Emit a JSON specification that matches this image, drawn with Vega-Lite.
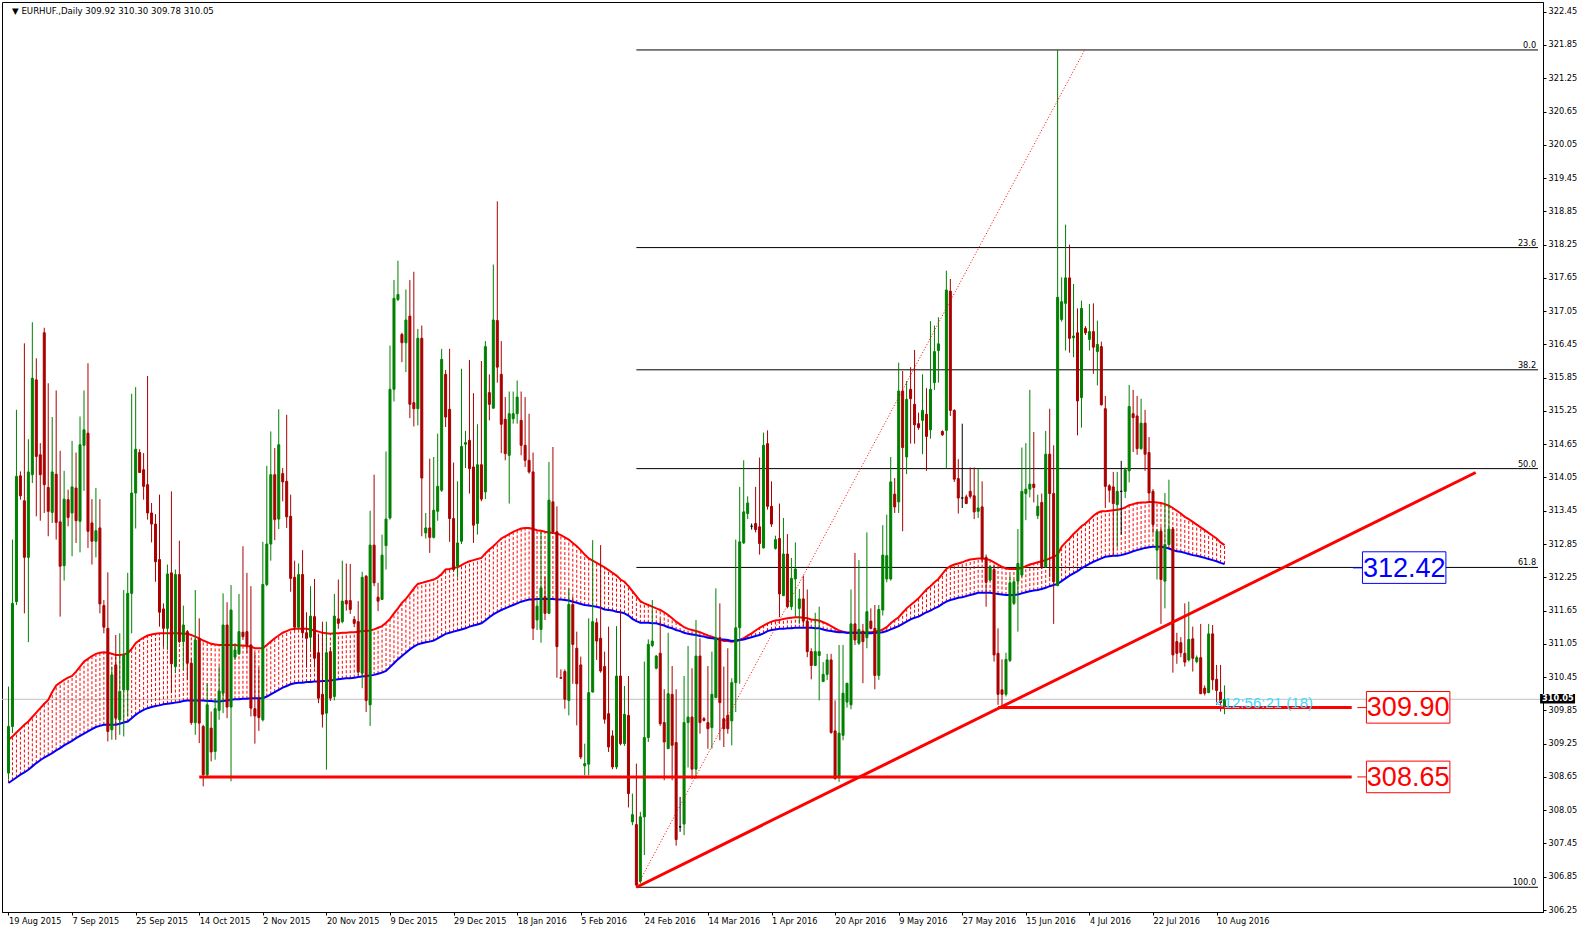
{
"$schema": "https://vega.github.io/schema/vega-lite/v6.json",
"width": 1541, "height": 910,
"autosize": {"type": "none"},
"padding": {"left": 2, "top": 2, "right": 40, "bottom": 21},
"background": "#ffffff",
"config": {
"view": {"stroke": "#000000", "strokeWidth": 1},
"axis": {"grid": false, "title": null, "tickColor": "#000000", "domainColor": "#000000", "labelColor": "#000000", "labelFont": "DejaVu Sans", "labelFontSize": 8.2, "labelOverlap": false, "labelFlush": false, "labelBound": false, "tickSize": 3}
},
"datasets": {
"candles": [
{"i":0,"o":308.72,"h":310.28,"l":308.60,"c":309.56,"r":309.32,"b":308.54},
{"i":1,"o":309.56,"h":312.93,"l":309.44,"c":311.78,"r":309.38,"b":308.59},
{"i":2,"o":311.81,"h":315.27,"l":311.75,"c":314.07,"r":309.45,"b":308.64},
{"i":3,"o":314.08,"h":314.16,"l":313.65,"c":313.72,"r":309.52,"b":308.69},
{"i":4,"o":313.63,"h":316.47,"l":311.60,"c":312.61,"r":309.59,"b":308.73},
{"i":5,"o":312.61,"h":314.74,"l":311.08,"c":314.15,"r":309.65,"b":308.78},
{"i":6,"o":314.10,"h":316.85,"l":313.95,"c":315.84,"r":309.73,"b":308.84},
{"i":7,"o":315.81,"h":316.20,"l":313.35,"c":314.43,"r":309.81,"b":308.90},
{"i":8,"o":314.46,"h":314.67,"l":313.27,"c":314.10,"r":309.89,"b":308.95},
{"i":9,"o":316.66,"h":316.75,"l":313.41,"c":313.92,"r":309.97,"b":309.00},
{"i":10,"o":313.87,"h":315.75,"l":312.99,"c":313.44,"r":310.04,"b":309.04},
{"i":11,"o":313.42,"h":315.14,"l":313.23,"c":314.15,"r":310.18,"b":309.08},
{"i":12,"o":314.11,"h":315.62,"l":312.93,"c":313.24,"r":310.30,"b":309.13},
{"i":13,"o":313.25,"h":314.53,"l":311.54,"c":312.45,"r":310.35,"b":309.17},
{"i":14,"o":312.46,"h":314.17,"l":312.19,"c":313.66,"r":310.40,"b":309.22},
{"i":15,"o":313.65,"h":313.83,"l":313.17,"c":313.33,"r":310.44,"b":309.26},
{"i":16,"o":313.41,"h":314.71,"l":312.63,"c":313.88,"r":310.47,"b":309.30},
{"i":17,"o":313.86,"h":314.50,"l":312.87,"c":313.27,"r":310.55,"b":309.35},
{"i":18,"o":313.26,"h":315.15,"l":312.70,"c":314.64,"r":310.64,"b":309.39},
{"i":19,"o":314.63,"h":315.62,"l":313.81,"c":314.91,"r":310.73,"b":309.43},
{"i":20,"o":314.85,"h":316.11,"l":312.78,"c":313.08,"r":310.78,"b":309.47},
{"i":21,"o":313.23,"h":313.66,"l":312.48,"c":312.90,"r":310.83,"b":309.51},
{"i":22,"o":312.90,"h":313.86,"l":312.61,"c":313.09,"r":310.87,"b":309.55},
{"i":23,"o":313.14,"h":313.66,"l":311.60,"c":311.77,"r":310.89,"b":309.57},
{"i":24,"o":311.74,"h":311.84,"l":311.24,"c":311.35,"r":310.90,"b":309.59},
{"i":25,"o":311.33,"h":312.34,"l":309.29,"c":309.47,"r":310.89,"b":309.59},
{"i":26,"o":309.50,"h":310.64,"l":309.32,"c":310.49,"r":310.87,"b":309.59},
{"i":27,"o":310.67,"h":311.21,"l":309.32,"c":309.71,"r":310.85,"b":309.59},
{"i":28,"o":309.68,"h":311.24,"l":309.41,"c":310.19,"r":310.85,"b":309.61},
{"i":29,"o":310.22,"h":312.02,"l":309.38,"c":310.85,"r":310.86,"b":309.63},
{"i":30,"o":310.22,"h":312.33,"l":309.74,"c":311.96,"r":310.88,"b":309.65},
{"i":31,"o":311.96,"h":315.56,"l":311.24,"c":313.77,"r":310.96,"b":309.71},
{"i":32,"o":313.77,"h":315.68,"l":313.13,"c":314.56,"r":311.06,"b":309.77},
{"i":33,"o":314.50,"h":314.56,"l":314.13,"c":314.14,"r":311.12,"b":309.82},
{"i":34,"o":314.19,"h":314.49,"l":313.65,"c":313.89,"r":311.16,"b":309.86},
{"i":35,"o":313.92,"h":315.88,"l":313.29,"c":313.41,"r":311.20,"b":309.89},
{"i":36,"o":313.41,"h":313.59,"l":312.88,"c":313.21,"r":311.22,"b":309.91},
{"i":37,"o":313.21,"h":313.39,"l":312.17,"c":312.53,"r":311.23,"b":309.93},
{"i":38,"o":312.57,"h":313.74,"l":311.36,"c":311.62,"r":311.24,"b":309.94},
{"i":39,"o":311.68,"h":311.78,"l":311.00,"c":311.33,"r":311.24,"b":309.96},
{"i":40,"o":311.33,"h":312.48,"l":310.94,"c":312.31,"r":311.24,"b":309.97},
{"i":41,"o":312.33,"h":313.80,"l":310.16,"c":310.69,"r":311.24,"b":309.98},
{"i":42,"o":310.64,"h":312.39,"l":310.52,"c":312.30,"r":311.24,"b":309.99},
{"i":43,"o":312.30,"h":312.91,"l":311.06,"c":311.09,"r":311.24,"b":310.00},
{"i":44,"o":311.09,"h":311.74,"l":310.58,"c":311.39,"r":311.23,"b":310.02},
{"i":45,"o":311.27,"h":311.30,"l":310.40,"c":310.70,"r":311.23,"b":310.03},
{"i":46,"o":310.70,"h":310.79,"l":309.59,"c":309.63,"r":311.21,"b":310.03},
{"i":47,"o":309.63,"h":312.02,"l":309.41,"c":311.12,"r":311.18,"b":310.03},
{"i":48,"o":311.14,"h":311.51,"l":309.26,"c":309.62,"r":311.15,"b":310.03},
{"i":49,"o":309.56,"h":309.59,"l":308.48,"c":308.69,"r":311.11,"b":310.03},
{"i":50,"o":308.69,"h":310.34,"l":308.66,"c":309.95,"r":311.08,"b":310.02},
{"i":51,"o":309.53,"h":309.83,"l":308.93,"c":309.10,"r":311.05,"b":310.02},
{"i":52,"o":309.11,"h":310.07,"l":308.96,"c":309.88,"r":311.04,"b":310.01},
{"i":53,"o":309.85,"h":310.64,"l":309.68,"c":310.20,"r":311.03,"b":310.01},
{"i":54,"o":310.16,"h":311.96,"l":309.80,"c":311.39,"r":311.03,"b":310.02},
{"i":55,"o":311.39,"h":311.80,"l":309.71,"c":309.91,"r":311.03,"b":310.03},
{"i":56,"o":309.91,"h":312.11,"l":308.57,"c":311.66,"r":311.03,"b":310.04},
{"i":57,"o":310.81,"h":311.06,"l":310.76,"c":310.94,"r":311.03,"b":310.05},
{"i":58,"o":310.87,"h":311.95,"l":310.85,"c":311.27,"r":311.02,"b":310.05},
{"i":59,"o":311.26,"h":312.81,"l":311.12,"c":311.18,"r":311.02,"b":310.06},
{"i":60,"o":311.27,"h":312.33,"l":310.88,"c":311.03,"r":311.01,"b":310.06},
{"i":61,"o":311.03,"h":312.09,"l":309.74,"c":309.89,"r":311.00,"b":310.07},
{"i":62,"o":309.88,"h":310.89,"l":309.25,"c":309.75,"r":310.97,"b":310.07},
{"i":63,"o":310.05,"h":310.62,"l":309.48,"c":309.72,"r":310.97,"b":310.07},
{"i":64,"o":309.68,"h":312.89,"l":309.65,"c":312.12,"r":310.97,"b":310.07},
{"i":65,"o":312.12,"h":314.26,"l":312.09,"c":312.85,"r":311.03,"b":310.10},
{"i":66,"o":312.85,"h":314.88,"l":312.55,"c":314.10,"r":311.09,"b":310.14},
{"i":67,"o":314.10,"h":314.58,"l":312.92,"c":313.29,"r":311.15,"b":310.18},
{"i":68,"o":313.30,"h":315.28,"l":313.12,"c":314.64,"r":311.20,"b":310.22},
{"i":69,"o":314.12,"h":314.22,"l":313.62,"c":313.97,"r":311.25,"b":310.26},
{"i":70,"o":313.98,"h":315.18,"l":313.14,"c":313.34,"r":311.28,"b":310.29},
{"i":71,"o":313.35,"h":313.74,"l":311.99,"c":312.23,"r":311.31,"b":310.32},
{"i":72,"o":312.25,"h":312.55,"l":311.29,"c":311.35,"r":311.32,"b":310.34},
{"i":73,"o":311.35,"h":312.50,"l":311.32,"c":312.30,"r":311.32,"b":310.35},
{"i":74,"o":312.30,"h":312.74,"l":311.15,"c":311.25,"r":311.32,"b":310.35},
{"i":75,"o":311.25,"h":311.62,"l":310.62,"c":311.15,"r":311.32,"b":310.36},
{"i":76,"o":311.17,"h":312.09,"l":310.95,"c":311.55,"r":311.31,"b":310.36},
{"i":77,"o":311.54,"h":312.22,"l":310.62,"c":310.79,"r":311.29,"b":310.37},
{"i":78,"o":310.89,"h":311.22,"l":309.98,"c":310.07,"r":311.27,"b":310.37},
{"i":79,"o":310.14,"h":311.45,"l":309.54,"c":309.78,"r":311.25,"b":310.38},
{"i":80,"o":309.80,"h":311.45,"l":308.78,"c":310.89,"r":311.24,"b":310.38},
{"i":81,"o":310.91,"h":310.99,"l":310.02,"c":310.07,"r":311.23,"b":310.39},
{"i":82,"o":310.10,"h":311.95,"l":310.03,"c":311.55,"r":311.24,"b":310.40},
{"i":83,"o":311.50,"h":312.21,"l":311.32,"c":311.42,"r":311.24,"b":310.41},
{"i":84,"o":311.45,"h":312.55,"l":311.42,"c":311.82,"r":311.25,"b":310.42},
{"i":85,"o":311.83,"h":312.50,"l":311.65,"c":311.77,"r":311.25,"b":310.43},
{"i":86,"o":311.83,"h":312.49,"l":311.59,"c":311.67,"r":311.26,"b":310.43},
{"i":87,"o":311.49,"h":311.55,"l":311.35,"c":311.42,"r":311.26,"b":310.44},
{"i":88,"o":311.45,"h":311.82,"l":310.48,"c":310.54,"r":311.27,"b":310.45},
{"i":89,"o":310.52,"h":312.35,"l":310.25,"c":312.25,"r":311.28,"b":310.46},
{"i":90,"o":312.27,"h":312.29,"l":309.82,"c":310.03,"r":311.28,"b":310.47},
{"i":91,"o":309.95,"h":313.45,"l":309.57,"c":312.83,"r":311.29,"b":310.48},
{"i":92,"o":312.83,"h":314.10,"l":312.09,"c":312.15,"r":311.31,"b":310.49},
{"i":93,"o":311.89,"h":312.15,"l":311.64,"c":311.82,"r":311.34,"b":310.51},
{"i":94,"o":311.85,"h":313.02,"l":311.85,"c":312.65,"r":311.37,"b":310.53},
{"i":95,"o":312.82,"h":314.52,"l":312.39,"c":313.30,"r":311.43,"b":310.56},
{"i":96,"o":313.32,"h":316.43,"l":313.29,"c":315.64,"r":311.50,"b":310.63},
{"i":97,"o":315.64,"h":317.61,"l":315.42,"c":317.28,"r":311.60,"b":310.70},
{"i":98,"o":317.26,"h":317.96,"l":317.23,"c":317.35,"r":311.69,"b":310.77},
{"i":99,"o":316.63,"h":316.66,"l":316.13,"c":316.48,"r":311.79,"b":310.83},
{"i":100,"o":316.48,"h":317.44,"l":315.95,"c":316.89,"r":311.86,"b":310.89},
{"i":101,"o":316.96,"h":317.61,"l":315.12,"c":315.37,"r":311.95,"b":310.95},
{"i":102,"o":315.40,"h":317.76,"l":314.97,"c":315.29,"r":312.05,"b":311.00},
{"i":103,"o":315.29,"h":316.73,"l":314.99,"c":316.56,"r":312.13,"b":311.04},
{"i":104,"o":316.56,"h":316.79,"l":312.99,"c":314.04,"r":312.15,"b":311.06},
{"i":105,"o":313.05,"h":313.41,"l":312.95,"c":313.14,"r":312.17,"b":311.08},
{"i":106,"o":313.14,"h":314.39,"l":312.69,"c":312.97,"r":312.19,"b":311.09},
{"i":107,"o":312.97,"h":314.42,"l":312.95,"c":313.46,"r":312.21,"b":311.11},
{"i":108,"o":313.44,"h":314.84,"l":313.27,"c":313.89,"r":312.25,"b":311.15},
{"i":109,"o":313.82,"h":316.37,"l":313.79,"c":316.18,"r":312.31,"b":311.19},
{"i":110,"o":315.91,"h":315.99,"l":314.96,"c":315.14,"r":312.39,"b":311.23},
{"i":111,"o":315.28,"h":316.37,"l":312.89,"c":313.31,"r":312.40,"b":311.25},
{"i":112,"o":313.31,"h":314.32,"l":312.35,"c":312.39,"r":312.42,"b":311.27},
{"i":113,"o":312.45,"h":313.98,"l":312.25,"c":312.87,"r":312.43,"b":311.29},
{"i":114,"o":312.90,"h":316.01,"l":312.85,"c":314.61,"r":312.47,"b":311.31},
{"i":115,"o":314.65,"h":314.89,"l":314.22,"c":314.68,"r":312.51,"b":311.33},
{"i":116,"o":314.72,"h":316.17,"l":313.76,"c":314.21,"r":312.54,"b":311.36},
{"i":117,"o":314.24,"h":315.57,"l":312.87,"c":313.19,"r":312.56,"b":311.38},
{"i":118,"o":313.22,"h":315.01,"l":313.02,"c":314.28,"r":312.58,"b":311.40},
{"i":119,"o":314.28,"h":316.15,"l":313.62,"c":313.66,"r":312.60,"b":311.42},
{"i":120,"o":313.79,"h":316.51,"l":313.66,"c":316.41,"r":312.68,"b":311.47},
{"i":121,"o":315.58,"h":315.91,"l":315.08,"c":315.37,"r":312.75,"b":311.53},
{"i":122,"o":315.30,"h":317.89,"l":315.29,"c":316.89,"r":312.81,"b":311.58},
{"i":123,"o":316.88,"h":319.03,"l":315.76,"c":316.04,"r":312.88,"b":311.62},
{"i":124,"o":315.91,"h":316.51,"l":314.49,"c":315.01,"r":312.95,"b":311.66},
{"i":125,"o":315.10,"h":315.50,"l":314.36,"c":314.48,"r":312.99,"b":311.69},
{"i":126,"o":314.45,"h":315.60,"l":313.58,"c":315.20,"r":313.03,"b":311.72},
{"i":127,"o":315.11,"h":315.60,"l":315.02,"c":315.20,"r":313.07,"b":311.75},
{"i":128,"o":315.20,"h":315.80,"l":315.02,"c":315.50,"r":313.10,"b":311.78},
{"i":129,"o":315.08,"h":315.60,"l":314.45,"c":314.63,"r":313.13,"b":311.81},
{"i":130,"o":314.63,"h":315.50,"l":314.24,"c":314.36,"r":313.14,"b":311.83},
{"i":131,"o":314.36,"h":315.20,"l":314.12,"c":314.15,"r":313.14,"b":311.85},
{"i":132,"o":314.15,"h":314.50,"l":311.12,"c":311.33,"r":313.12,"b":311.85},
{"i":133,"o":311.48,"h":311.87,"l":311.30,"c":311.73,"r":313.10,"b":311.86},
{"i":134,"o":311.31,"h":313.07,"l":311.07,"c":312.06,"r":313.09,"b":311.86},
{"i":135,"o":311.90,"h":312.26,"l":311.48,"c":311.60,"r":313.07,"b":311.86},
{"i":136,"o":311.60,"h":314.33,"l":311.60,"c":313.64,"r":313.06,"b":311.86},
{"i":137,"o":313.61,"h":314.60,"l":313.04,"c":313.07,"r":313.05,"b":311.86},
{"i":138,"o":313.07,"h":313.53,"l":310.44,"c":311.00,"r":313.04,"b":311.85},
{"i":139,"o":310.44,"h":310.59,"l":310.42,"c":310.43,"r":313.01,"b":311.85},
{"i":140,"o":310.55,"h":310.59,"l":309.88,"c":310.05,"r":312.97,"b":311.84},
{"i":141,"o":310.03,"h":312.05,"l":309.76,"c":311.76,"r":312.93,"b":311.83},
{"i":142,"o":311.76,"h":311.90,"l":310.33,"c":311.04,"r":312.87,"b":311.81},
{"i":143,"o":310.97,"h":311.27,"l":309.58,"c":310.33,"r":312.81,"b":311.79},
{"i":144,"o":310.67,"h":310.82,"l":308.97,"c":309.01,"r":312.74,"b":311.77},
{"i":145,"o":308.85,"h":309.25,"l":308.68,"c":308.89,"r":312.66,"b":311.75},
{"i":146,"o":308.88,"h":311.51,"l":308.68,"c":310.17,"r":312.59,"b":311.74},
{"i":147,"o":310.18,"h":312.92,"l":310.18,"c":311.45,"r":312.55,"b":311.73},
{"i":148,"o":311.43,"h":311.51,"l":310.76,"c":311.10,"r":312.51,"b":311.72},
{"i":149,"o":311.15,"h":312.83,"l":310.53,"c":310.56,"r":312.47,"b":311.70},
{"i":150,"o":310.64,"h":310.91,"l":309.61,"c":309.69,"r":312.43,"b":311.67},
{"i":151,"o":309.79,"h":311.36,"l":309.10,"c":309.19,"r":312.38,"b":311.66},
{"i":152,"o":309.39,"h":309.49,"l":308.79,"c":308.83,"r":312.33,"b":311.65},
{"i":153,"o":308.83,"h":311.37,"l":308.79,"c":310.47,"r":312.28,"b":311.63},
{"i":154,"o":310.47,"h":311.66,"l":309.22,"c":309.25,"r":312.21,"b":311.62},
{"i":155,"o":309.25,"h":310.29,"l":309.21,"c":309.78,"r":312.17,"b":311.60},
{"i":156,"o":309.76,"h":310.47,"l":308.10,"c":308.35,"r":312.09,"b":311.56},
{"i":157,"o":307.84,"h":308.35,"l":307.78,"c":307.97,"r":312.00,"b":311.50},
{"i":158,"o":307.79,"h":308.89,"l":306.66,"c":306.70,"r":311.91,"b":311.46},
{"i":159,"o":306.77,"h":308.02,"l":306.73,"c":307.93,"r":311.82,"b":311.43},
{"i":160,"o":307.93,"h":310.73,"l":307.24,"c":309.36,"r":311.78,"b":311.43},
{"i":161,"o":309.36,"h":311.13,"l":309.28,"c":311.04,"r":311.75,"b":311.43},
{"i":162,"o":311.02,"h":311.84,"l":310.99,"c":311.10,"r":311.72,"b":311.42},
{"i":163,"o":310.61,"h":310.85,"l":310.59,"c":310.83,"r":311.69,"b":311.42},
{"i":164,"o":310.88,"h":311.50,"l":309.57,"c":309.61,"r":311.66,"b":311.40},
{"i":165,"o":309.63,"h":310.23,"l":308.59,"c":309.28,"r":311.62,"b":311.38},
{"i":166,"o":309.16,"h":311.25,"l":309.16,"c":310.15,"r":311.57,"b":311.35},
{"i":167,"o":310.14,"h":310.65,"l":308.59,"c":309.22,"r":311.51,"b":311.33},
{"i":168,"o":309.27,"h":310.23,"l":307.41,"c":307.52,"r":311.45,"b":311.30},
{"i":169,"o":307.75,"h":308.29,"l":307.66,"c":307.75,"r":311.40,"b":311.28},
{"i":170,"o":307.80,"h":310.47,"l":307.60,"c":309.63,"r":311.35,"b":311.25},
{"i":171,"o":309.63,"h":311.01,"l":308.82,"c":309.73,"r":311.32,"b":311.23},
{"i":172,"o":309.73,"h":310.61,"l":308.61,"c":308.79,"r":311.30,"b":311.22},
{"i":173,"o":308.79,"h":311.48,"l":308.62,"c":310.83,"r":311.28,"b":311.21},
{"i":174,"o":310.83,"h":311.15,"l":309.43,"c":309.63,"r":311.26,"b":311.19},
{"i":175,"o":309.70,"h":309.73,"l":309.65,"c":309.67,"r":311.23,"b":311.18},
{"i":176,"o":309.63,"h":310.65,"l":309.16,"c":309.52,"r":311.20,"b":311.16},
{"i":177,"o":309.54,"h":310.91,"l":309.16,"c":310.14,"r":311.18,"b":311.15},
{"i":178,"o":310.08,"h":312.05,"l":310.08,"c":311.16,"r":311.15,"b":311.14},
{"i":179,"o":311.16,"h":311.78,"l":309.31,"c":309.99,"r":311.13,"b":311.13},
{"i":180,"o":309.70,"h":310.64,"l":309.19,"c":309.52,"r":311.10,"b":311.13},
{"i":181,"o":309.76,"h":310.97,"l":309.43,"c":309.52,"r":311.10,"b":311.12},
{"i":182,"o":309.66,"h":310.43,"l":309.22,"c":310.35,"r":311.09,"b":311.10},
{"i":183,"o":310.35,"h":312.93,"l":309.82,"c":311.34,"r":311.10,"b":311.11},
{"i":184,"o":311.34,"h":313.88,"l":310.33,"c":312.89,"r":311.12,"b":311.12},
{"i":185,"o":312.87,"h":314.36,"l":312.85,"c":313.43,"r":311.15,"b":311.13},
{"i":186,"o":313.40,"h":313.71,"l":313.30,"c":313.59,"r":311.20,"b":311.15},
{"i":187,"o":313.17,"h":313.22,"l":313.11,"c":313.17,"r":311.24,"b":311.17},
{"i":188,"o":313.22,"h":313.88,"l":313.06,"c":313.11,"r":311.29,"b":311.19},
{"i":189,"o":313.16,"h":314.41,"l":312.66,"c":312.86,"r":311.34,"b":311.21},
{"i":190,"o":312.78,"h":314.86,"l":312.77,"c":314.63,"r":311.38,"b":311.24},
{"i":191,"o":314.66,"h":314.90,"l":313.47,"c":313.53,"r":311.42,"b":311.28},
{"i":192,"o":313.53,"h":313.98,"l":313.16,"c":313.21,"r":311.45,"b":311.30},
{"i":193,"o":312.77,"h":313.00,"l":312.75,"c":312.93,"r":311.47,"b":311.31},
{"i":194,"o":312.95,"h":313.58,"l":311.53,"c":311.95,"r":311.48,"b":311.32},
{"i":195,"o":311.92,"h":313.32,"l":311.91,"c":312.67,"r":311.50,"b":311.32},
{"i":196,"o":312.67,"h":313.03,"l":311.69,"c":311.72,"r":311.51,"b":311.33},
{"i":197,"o":311.72,"h":312.60,"l":311.66,"c":312.23,"r":311.52,"b":311.33},
{"i":198,"o":312.22,"h":312.88,"l":311.54,"c":312.40,"r":311.53,"b":311.34},
{"i":199,"o":311.69,"h":312.04,"l":311.41,"c":311.86,"r":311.53,"b":311.34},
{"i":200,"o":311.86,"h":312.28,"l":311.37,"c":311.46,"r":311.52,"b":311.34},
{"i":201,"o":311.46,"h":312.03,"l":310.81,"c":310.91,"r":311.51,"b":311.34},
{"i":202,"o":310.91,"h":310.97,"l":310.41,"c":310.66,"r":311.49,"b":311.34},
{"i":203,"o":310.66,"h":311.61,"l":310.66,"c":310.91,"r":311.48,"b":311.33},
{"i":204,"o":310.84,"h":311.72,"l":310.03,"c":310.91,"r":311.47,"b":311.33},
{"i":205,"o":310.37,"h":310.72,"l":310.36,"c":310.50,"r":311.44,"b":311.31},
{"i":206,"o":310.50,"h":310.87,"l":310.40,"c":310.76,"r":311.41,"b":311.29},
{"i":207,"o":310.76,"h":310.87,"l":309.43,"c":309.45,"r":311.37,"b":311.28},
{"i":208,"o":309.48,"h":310.03,"l":308.60,"c":308.62,"r":311.33,"b":311.27},
{"i":209,"o":308.65,"h":311.03,"l":308.56,"c":309.44,"r":311.29,"b":311.26},
{"i":210,"o":309.40,"h":311.03,"l":309.31,"c":310.16,"r":311.27,"b":311.26},
{"i":211,"o":310.00,"h":310.34,"l":309.90,"c":310.34,"r":311.25,"b":311.25},
{"i":212,"o":309.95,"h":312.03,"l":309.87,"c":311.41,"r":311.25,"b":311.25},
{"i":213,"o":311.41,"h":312.69,"l":311.03,"c":311.12,"r":311.25,"b":311.25},
{"i":214,"o":311.06,"h":312.56,"l":311.03,"c":311.31,"r":311.25,"b":311.25},
{"i":215,"o":311.28,"h":311.41,"l":310.34,"c":311.09,"r":311.25,"b":311.25},
{"i":216,"o":311.16,"h":313.06,"l":310.97,"c":311.63,"r":311.26,"b":311.24},
{"i":217,"o":311.46,"h":311.69,"l":311.31,"c":311.33,"r":311.26,"b":311.24},
{"i":218,"o":311.33,"h":311.75,"l":310.23,"c":310.48,"r":311.27,"b":311.25},
{"i":219,"o":310.48,"h":311.75,"l":310.40,"c":311.67,"r":311.28,"b":311.25},
{"i":220,"o":311.66,"h":313.19,"l":311.56,"c":312.65,"r":311.31,"b":311.26},
{"i":221,"o":312.22,"h":313.38,"l":312.16,"c":312.64,"r":311.35,"b":311.28},
{"i":222,"o":312.22,"h":314.42,"l":312.19,"c":313.97,"r":311.42,"b":311.31},
{"i":223,"o":313.75,"h":314.04,"l":313.41,"c":313.52,"r":311.48,"b":311.34},
{"i":224,"o":313.61,"h":316.12,"l":313.41,"c":315.61,"r":311.53,"b":311.37},
{"i":225,"o":315.61,"h":315.97,"l":313.08,"c":314.59,"r":311.61,"b":311.41},
{"i":226,"o":314.42,"h":315.79,"l":314.11,"c":315.46,"r":311.69,"b":311.45},
{"i":227,"o":315.64,"h":316.04,"l":314.66,"c":315.47,"r":311.75,"b":311.49},
{"i":228,"o":315.37,"h":316.35,"l":314.66,"c":315.00,"r":311.81,"b":311.52},
{"i":229,"o":315.02,"h":315.22,"l":314.91,"c":314.95,"r":311.87,"b":311.54},
{"i":230,"o":315.08,"h":315.91,"l":314.47,"c":315.26,"r":311.95,"b":311.58},
{"i":231,"o":315.19,"h":315.66,"l":314.17,"c":314.79,"r":312.03,"b":311.62},
{"i":232,"o":314.91,"h":316.87,"l":314.75,"c":315.64,"r":312.09,"b":311.65},
{"i":233,"o":315.76,"h":316.79,"l":315.63,"c":316.32,"r":312.16,"b":311.69},
{"i":234,"o":316.34,"h":316.94,"l":315.76,"c":316.46,"r":312.22,"b":311.72},
{"i":235,"o":314.88,"h":314.90,"l":314.80,"c":314.82,"r":312.31,"b":311.77},
{"i":236,"o":314.90,"h":317.78,"l":314.21,"c":317.43,"r":312.40,"b":311.81},
{"i":237,"o":317.41,"h":317.63,"l":315.16,"c":315.26,"r":312.45,"b":311.84},
{"i":238,"o":315.26,"h":315.28,"l":313.97,"c":314.02,"r":312.48,"b":311.86},
{"i":239,"o":314.03,"h":314.38,"l":313.40,"c":313.68,"r":312.50,"b":311.88},
{"i":240,"o":313.68,"h":315.02,"l":313.50,"c":313.68,"r":312.52,"b":311.89},
{"i":241,"o":313.70,"h":313.74,"l":313.57,"c":313.58,"r":312.55,"b":311.91},
{"i":242,"o":313.80,"h":314.23,"l":313.67,"c":313.71,"r":312.57,"b":311.93},
{"i":243,"o":313.72,"h":314.23,"l":313.30,"c":313.43,"r":312.58,"b":311.95},
{"i":244,"o":313.44,"h":314.21,"l":313.32,"c":313.50,"r":312.59,"b":311.97},
{"i":245,"o":313.52,"h":313.98,"l":312.53,"c":312.58,"r":312.59,"b":311.97},
{"i":246,"o":312.61,"h":312.66,"l":311.72,"c":312.16,"r":312.58,"b":311.97},
{"i":247,"o":312.20,"h":312.46,"l":312.18,"c":312.44,"r":312.56,"b":311.97},
{"i":248,"o":312.39,"h":312.48,"l":310.73,"c":310.85,"r":312.52,"b":311.96},
{"i":249,"o":310.88,"h":311.33,"l":309.95,"c":310.14,"r":312.48,"b":311.95},
{"i":250,"o":310.22,"h":310.77,"l":309.90,"c":310.14,"r":312.44,"b":311.94},
{"i":251,"o":310.14,"h":310.89,"l":310.10,"c":310.77,"r":312.41,"b":311.93},
{"i":252,"o":310.75,"h":312.29,"l":310.72,"c":312.15,"r":312.40,"b":311.93},
{"i":253,"o":311.78,"h":312.21,"l":311.75,"c":312.17,"r":312.40,"b":311.93},
{"i":254,"o":312.18,"h":313.12,"l":311.27,"c":312.50,"r":312.40,"b":311.94},
{"i":255,"o":312.29,"h":314.59,"l":312.25,"c":313.80,"r":312.42,"b":311.96},
{"i":256,"o":313.76,"h":314.67,"l":313.28,"c":313.84,"r":312.45,"b":311.98},
{"i":257,"o":313.84,"h":315.63,"l":313.69,"c":313.93,"r":312.48,"b":312.00},
{"i":258,"o":313.93,"h":314.87,"l":313.60,"c":313.87,"r":312.50,"b":312.01},
{"i":259,"o":313.36,"h":313.74,"l":313.30,"c":313.53,"r":312.52,"b":312.02},
{"i":260,"o":313.60,"h":313.76,"l":312.40,"c":312.44,"r":312.54,"b":312.04},
{"i":261,"o":312.44,"h":314.89,"l":312.42,"c":314.47,"r":312.56,"b":312.06},
{"i":262,"o":314.47,"h":315.29,"l":312.25,"c":313.76,"r":312.59,"b":312.09},
{"i":263,"o":313.76,"h":314.63,"l":311.41,"c":312.17,"r":312.62,"b":312.11},
{"i":264,"o":312.10,"h":321.76,"l":312.09,"c":317.30,"r":312.66,"b":312.13},
{"i":265,"o":316.90,"h":317.66,"l":316.86,"c":317.22,"r":312.80,"b":312.18},
{"i":266,"o":317.19,"h":318.61,"l":316.34,"c":317.65,"r":312.88,"b":312.23},
{"i":267,"o":317.65,"h":318.25,"l":316.30,"c":316.56,"r":312.95,"b":312.28},
{"i":268,"o":316.57,"h":317.54,"l":316.22,"c":316.60,"r":313.03,"b":312.32},
{"i":269,"o":316.66,"h":317.10,"l":314.81,"c":315.43,"r":313.10,"b":312.36},
{"i":270,"o":315.49,"h":317.24,"l":314.95,"c":317.10,"r":313.17,"b":312.41},
{"i":271,"o":316.74,"h":316.78,"l":316.62,"c":316.66,"r":313.22,"b":312.45},
{"i":272,"o":316.54,"h":317.18,"l":316.34,"c":316.68,"r":313.29,"b":312.49},
{"i":273,"o":316.68,"h":317.19,"l":315.92,"c":316.40,"r":313.36,"b":312.53},
{"i":274,"o":316.32,"h":316.88,"l":315.71,"c":316.45,"r":313.41,"b":312.56},
{"i":275,"o":316.41,"h":316.50,"l":315.35,"c":315.36,"r":313.44,"b":312.59},
{"i":276,"o":315.29,"h":315.52,"l":313.50,"c":313.89,"r":313.44,"b":312.62},
{"i":277,"o":313.90,"h":313.93,"l":313.60,"c":313.82,"r":313.45,"b":312.63},
{"i":278,"o":313.88,"h":314.15,"l":312.64,"c":313.58,"r":313.46,"b":312.64},
{"i":279,"o":313.56,"h":314.15,"l":312.79,"c":313.80,"r":313.47,"b":312.64},
{"i":280,"o":313.80,"h":314.35,"l":313.02,"c":313.80,"r":313.48,"b":312.65},
{"i":281,"o":313.80,"h":314.23,"l":313.68,"c":314.19,"r":313.51,"b":312.67},
{"i":282,"o":314.17,"h":315.72,"l":313.96,"c":315.33,"r":313.55,"b":312.69},
{"i":283,"o":315.20,"h":315.63,"l":314.51,"c":315.13,"r":313.57,"b":312.72},
{"i":284,"o":315.16,"h":315.52,"l":314.46,"c":314.57,"r":313.59,"b":312.74},
{"i":285,"o":314.57,"h":315.47,"l":314.55,"c":315.03,"r":313.60,"b":312.76},
{"i":286,"o":315.03,"h":315.27,"l":314.17,"c":314.47,"r":313.60,"b":312.78},
{"i":287,"o":314.50,"h":314.78,"l":313.60,"c":313.77,"r":313.61,"b":312.79},
{"i":288,"o":313.80,"h":313.84,"l":313.04,"c":313.20,"r":313.61,"b":312.80},
{"i":289,"o":312.74,"h":313.12,"l":312.21,"c":313.08,"r":313.60,"b":312.80},
{"i":290,"o":313.08,"h":313.16,"l":311.41,"c":312.21,"r":313.59,"b":312.80},
{"i":291,"o":312.18,"h":313.77,"l":311.69,"c":312.84,"r":313.57,"b":312.79},
{"i":292,"o":312.84,"h":314.01,"l":312.82,"c":313.12,"r":313.54,"b":312.77},
{"i":293,"o":313.12,"h":313.16,"l":310.53,"c":310.85,"r":313.50,"b":312.74},
{"i":294,"o":311.09,"h":311.25,"l":310.69,"c":310.88,"r":313.45,"b":312.72},
{"i":295,"o":311.07,"h":311.17,"l":310.81,"c":310.89,"r":313.40,"b":312.71},
{"i":296,"o":310.88,"h":311.78,"l":310.64,"c":310.72,"r":313.34,"b":312.69},
{"i":297,"o":310.76,"h":311.81,"l":310.73,"c":311.13,"r":313.30,"b":312.67},
{"i":298,"o":311.14,"h":311.36,"l":310.55,"c":310.79,"r":313.25,"b":312.65},
{"i":299,"o":310.73,"h":310.84,"l":310.70,"c":310.80,"r":313.20,"b":312.64},
{"i":300,"o":310.80,"h":311.41,"l":310.15,"c":310.15,"r":313.15,"b":312.62},
{"i":301,"o":310.25,"h":310.30,"l":310.12,"c":310.16,"r":313.10,"b":312.60},
{"i":302,"o":310.17,"h":311.41,"l":310.16,"c":311.23,"r":313.05,"b":312.58},
{"i":303,"o":311.23,"h":311.39,"l":310.22,"c":310.40,"r":313.00,"b":312.56},
{"i":304,"o":310.41,"h":310.67,"l":309.95,"c":310.21,"r":312.95,"b":312.54},
{"i":305,"o":310.18,"h":310.67,"l":309.83,"c":309.99,"r":312.88,"b":312.51},
{"i":306,"o":309.92,"h":310.30,"l":309.78,"c":310.05,"r":312.83,"b":312.49}
],
"fib": [
{"lv":"0.0","p":321.76,"from":158},
{"lv":"23.6","p":318.196,"from":158},
{"lv":"38.2","p":315.992,"from":158},
{"lv":"50.0","p":314.21,"from":158},
{"lv":"61.8","p":312.428,"from":158},
{"lv":"100.0","p":306.66,"from":158}
],
"cur": [{"p":310.05}],
"thick": [
{"x1":158,"y1":306.66,"x2":369.2,"y2":314.14},
{"x1":249,"y1":309.90,"x2":338,"y2":309.90},
{"x1":48,"y1":308.65,"x2":338,"y2":308.65}
],
"dotted": [{"x1":158,"y1":306.66,"x2":270.8,"y2":321.76}],
"conn": [
{"x1":339.4,"y1":309.90,"x2":341.7,"y2":309.90,"k":"red"},
{"x1":339.4,"y1":308.65,"x2":341.7,"y2":308.65,"k":"red"},
{"x1":338.3,"y1":312.42,"x2":340.7,"y2":312.42,"k":"blue"}
],
"boxes": [
{"t":"312.42","k":"blue","x1":340.7,"x2":361.7,"y1":312.71,"y2":312.14,"xm":351.2,"p":312.42},
{"t":"309.90","k":"red","x1":341.7,"x2":362.7,"y1":310.19,"y2":309.62,"xm":352.2,"p":309.905},
{"t":"308.65","k":"red","x1":341.7,"x2":362.7,"y1":308.935,"y2":308.365,"xm":352.2,"p":308.65}
],
"tag": [{"t":"310.05","x1":385.4,"x2":394.2,"y1":310.145,"y2":309.975,"xt":385.9,"p":310.06}],
"header": [{"t":"▼ EURHUF.,Daily  309.92 310.30 309.78 310.05","x":0.9,"p":322.47}],
"timer": [{"t":"<12:56:21 (18)","x":303.6,"p":309.98}]
},
"layer": [
{
"data": {"name": "cur"},
"mark": {"type": "rule", "color": "#c0c0c0", "strokeWidth": 1},
"encoding": {
"y": {"field": "p", "type": "quantitative", "scale": {"domain": [306.214, 322.625], "nice": false, "zero": false},
"axis": {"orient": "right", "values": [306.25,306.85,307.45,308.05,308.65,309.25,309.85,310.45,311.05,311.65,312.25,312.85,313.45,314.05,314.65,315.25,315.85,316.45,317.05,317.65,318.25,318.85,319.45,320.05,320.65,321.25,321.85,322.45], "format": ".2f", "labelAlign": "left", "labelBaseline": "middle", "labelPadding": 2, "title": null}}
}
},
{
"data": {"name": "fib"},
"mark": {"type": "rule", "color": "#000000", "strokeWidth": 1},
"encoding": {
"x": {"field": "from", "type": "quantitative", "scale": {"domain": [-0.375, 384.875], "nice": false, "zero": false},
"axis": {"orient": "bottom", "values": [0,16,32,48,64,80,96,112,128,144,160,176,192,208,224,240,256,272,288,304], "labelExpr": "['19 Aug 2015','7 Sep 2015','25 Sep 2015','14 Oct 2015','2 Nov 2015','20 Nov 2015','9 Dec 2015','29 Dec 2015','18 Jan 2016','5 Feb 2016','24 Feb 2016','14 Mar 2016','1 Apr 2016','20 Apr 2016','9 May 2016','27 May 2016','15 Jun 2016','4 Jul 2016','22 Jul 2016','10 Aug 2016'][round(datum.value/16)]", "labelAlign": "left", "labelBaseline": "middle", "labelPadding": 6, "title": null}},
"x2": {"datum": 384.875},
"y": {"field": "p", "type": "quantitative", "scale": {"domain": [306.214, 322.625], "nice": false, "zero": false},
"axis": {"orient": "right", "values": [306.25,306.85,307.45,308.05,308.65,309.25,309.85,310.45,311.05,311.65,312.25,312.85,313.45,314.05,314.65,315.25,315.85,316.45,317.05,317.65,318.25,318.85,319.45,320.05,320.65,321.25,321.85,322.45], "format": ".2f", "labelAlign": "left", "labelBaseline": "middle", "labelPadding": 2, "title": null}}
}
},
{
"data": {"name": "candles"},
"mark": {"type": "rule", "color": "#ff0000", "strokeWidth": 1, "strokeDash": [3, 2]},
"encoding": {
"x": {"field": "i", "type": "quantitative", "scale": {"domain": [-0.375, 384.875], "nice": false, "zero": false},
"axis": {"orient": "bottom", "values": [0,16,32,48,64,80,96,112,128,144,160,176,192,208,224,240,256,272,288,304], "labelExpr": "['19 Aug 2015','7 Sep 2015','25 Sep 2015','14 Oct 2015','2 Nov 2015','20 Nov 2015','9 Dec 2015','29 Dec 2015','18 Jan 2016','5 Feb 2016','24 Feb 2016','14 Mar 2016','1 Apr 2016','20 Apr 2016','9 May 2016','27 May 2016','15 Jun 2016','4 Jul 2016','22 Jul 2016','10 Aug 2016'][round(datum.value/16)]", "labelAlign": "left", "labelBaseline": "middle", "labelPadding": 6, "title": null}},
"y": {"field": "b", "type": "quantitative", "scale": {"domain": [306.214, 322.625], "nice": false, "zero": false},
"axis": {"orient": "right", "values": [306.25,306.85,307.45,308.05,308.65,309.25,309.85,310.45,311.05,311.65,312.25,312.85,313.45,314.05,314.65,315.25,315.85,316.45,317.05,317.65,318.25,318.85,319.45,320.05,320.65,321.25,321.85,322.45], "format": ".2f", "labelAlign": "left", "labelBaseline": "middle", "labelPadding": 2, "title": null}},
"y2": {"field": "r"}
}
},
{
"data": {"name": "candles"},
"mark": {"type": "line", "color": "#ff0000", "strokeWidth": 2},
"encoding": {
"x": {"field": "i", "type": "quantitative", "scale": {"domain": [-0.375, 384.875], "nice": false, "zero": false},
"axis": {"orient": "bottom", "values": [0,16,32,48,64,80,96,112,128,144,160,176,192,208,224,240,256,272,288,304], "labelExpr": "['19 Aug 2015','7 Sep 2015','25 Sep 2015','14 Oct 2015','2 Nov 2015','20 Nov 2015','9 Dec 2015','29 Dec 2015','18 Jan 2016','5 Feb 2016','24 Feb 2016','14 Mar 2016','1 Apr 2016','20 Apr 2016','9 May 2016','27 May 2016','15 Jun 2016','4 Jul 2016','22 Jul 2016','10 Aug 2016'][round(datum.value/16)]", "labelAlign": "left", "labelBaseline": "middle", "labelPadding": 6, "title": null}},
"y": {"field": "r", "type": "quantitative", "scale": {"domain": [306.214, 322.625], "nice": false, "zero": false},
"axis": {"orient": "right", "values": [306.25,306.85,307.45,308.05,308.65,309.25,309.85,310.45,311.05,311.65,312.25,312.85,313.45,314.05,314.65,315.25,315.85,316.45,317.05,317.65,318.25,318.85,319.45,320.05,320.65,321.25,321.85,322.45], "format": ".2f", "labelAlign": "left", "labelBaseline": "middle", "labelPadding": 2, "title": null}}
}
},
{
"data": {"name": "candles"},
"mark": {"type": "line", "color": "#0000ff", "strokeWidth": 2},
"encoding": {
"x": {"field": "i", "type": "quantitative", "scale": {"domain": [-0.375, 384.875], "nice": false, "zero": false},
"axis": {"orient": "bottom", "values": [0,16,32,48,64,80,96,112,128,144,160,176,192,208,224,240,256,272,288,304], "labelExpr": "['19 Aug 2015','7 Sep 2015','25 Sep 2015','14 Oct 2015','2 Nov 2015','20 Nov 2015','9 Dec 2015','29 Dec 2015','18 Jan 2016','5 Feb 2016','24 Feb 2016','14 Mar 2016','1 Apr 2016','20 Apr 2016','9 May 2016','27 May 2016','15 Jun 2016','4 Jul 2016','22 Jul 2016','10 Aug 2016'][round(datum.value/16)]", "labelAlign": "left", "labelBaseline": "middle", "labelPadding": 6, "title": null}},
"y": {"field": "b", "type": "quantitative", "scale": {"domain": [306.214, 322.625], "nice": false, "zero": false},
"axis": {"orient": "right", "values": [306.25,306.85,307.45,308.05,308.65,309.25,309.85,310.45,311.05,311.65,312.25,312.85,313.45,314.05,314.65,315.25,315.85,316.45,317.05,317.65,318.25,318.85,319.45,320.05,320.65,321.25,321.85,322.45], "format": ".2f", "labelAlign": "left", "labelBaseline": "middle", "labelPadding": 2, "title": null}}
}
},
{
"data": {"name": "candles"},
"mark": {"type": "rule", "strokeWidth": 1},
"encoding": {
"x": {"field": "i", "type": "quantitative", "scale": {"domain": [-0.375, 384.875], "nice": false, "zero": false},
"axis": {"orient": "bottom", "values": [0,16,32,48,64,80,96,112,128,144,160,176,192,208,224,240,256,272,288,304], "labelExpr": "['19 Aug 2015','7 Sep 2015','25 Sep 2015','14 Oct 2015','2 Nov 2015','20 Nov 2015','9 Dec 2015','29 Dec 2015','18 Jan 2016','5 Feb 2016','24 Feb 2016','14 Mar 2016','1 Apr 2016','20 Apr 2016','9 May 2016','27 May 2016','15 Jun 2016','4 Jul 2016','22 Jul 2016','10 Aug 2016'][round(datum.value/16)]", "labelAlign": "left", "labelBaseline": "middle", "labelPadding": 6, "title": null}},
"y": {"field": "h", "type": "quantitative", "scale": {"domain": [306.214, 322.625], "nice": false, "zero": false},
"axis": {"orient": "right", "values": [306.25,306.85,307.45,308.05,308.65,309.25,309.85,310.45,311.05,311.65,312.25,312.85,313.45,314.05,314.65,315.25,315.85,316.45,317.05,317.65,318.25,318.85,319.45,320.05,320.65,321.25,321.85,322.45], "format": ".2f", "labelAlign": "left", "labelBaseline": "middle", "labelPadding": 2, "title": null}},
"y2": {"field": "l"},
"color": {"condition": [{"test": "datum.c > datum.o", "value": "#008000"}, {"test": "datum.c < datum.o", "value": "#aa0000"}], "value": "#000000"}
}
},
{
"data": {"name": "candles"},
"mark": {"type": "bar", "width": 2, "strokeWidth": 1},
"encoding": {
"x": {"field": "i", "type": "quantitative", "scale": {"domain": [-0.375, 384.875], "nice": false, "zero": false},
"axis": {"orient": "bottom", "values": [0,16,32,48,64,80,96,112,128,144,160,176,192,208,224,240,256,272,288,304], "labelExpr": "['19 Aug 2015','7 Sep 2015','25 Sep 2015','14 Oct 2015','2 Nov 2015','20 Nov 2015','9 Dec 2015','29 Dec 2015','18 Jan 2016','5 Feb 2016','24 Feb 2016','14 Mar 2016','1 Apr 2016','20 Apr 2016','9 May 2016','27 May 2016','15 Jun 2016','4 Jul 2016','22 Jul 2016','10 Aug 2016'][round(datum.value/16)]", "labelAlign": "left", "labelBaseline": "middle", "labelPadding": 6, "title": null}},
"y": {"field": "o", "type": "quantitative", "scale": {"domain": [306.214, 322.625], "nice": false, "zero": false},
"axis": {"orient": "right", "values": [306.25,306.85,307.45,308.05,308.65,309.25,309.85,310.45,311.05,311.65,312.25,312.85,313.45,314.05,314.65,315.25,315.85,316.45,317.05,317.65,318.25,318.85,319.45,320.05,320.65,321.25,321.85,322.45], "format": ".2f", "labelAlign": "left", "labelBaseline": "middle", "labelPadding": 2, "title": null}},
"y2": {"field": "c"},
"fill": {"condition": [{"test": "datum.c > datum.o", "value": "#008000"}, {"test": "datum.c < datum.o", "value": "#aa0000"}], "value": "#000000"},
"stroke": {"condition": [{"test": "datum.c > datum.o", "value": "#008000"}, {"test": "datum.c < datum.o", "value": "#aa0000"}], "value": "#000000"}
}
},
{
"data": {"name": "thick"},
"mark": {"type": "rule", "color": "#ff0000", "strokeWidth": 3},
"encoding": {
"x": {"field": "x1", "type": "quantitative", "scale": {"domain": [-0.375, 384.875], "nice": false, "zero": false},
"axis": {"orient": "bottom", "values": [0,16,32,48,64,80,96,112,128,144,160,176,192,208,224,240,256,272,288,304], "labelExpr": "['19 Aug 2015','7 Sep 2015','25 Sep 2015','14 Oct 2015','2 Nov 2015','20 Nov 2015','9 Dec 2015','29 Dec 2015','18 Jan 2016','5 Feb 2016','24 Feb 2016','14 Mar 2016','1 Apr 2016','20 Apr 2016','9 May 2016','27 May 2016','15 Jun 2016','4 Jul 2016','22 Jul 2016','10 Aug 2016'][round(datum.value/16)]", "labelAlign": "left", "labelBaseline": "middle", "labelPadding": 6, "title": null}},
"x2": {"field": "x2"},
"y": {"field": "y1", "type": "quantitative", "scale": {"domain": [306.214, 322.625], "nice": false, "zero": false},
"axis": {"orient": "right", "values": [306.25,306.85,307.45,308.05,308.65,309.25,309.85,310.45,311.05,311.65,312.25,312.85,313.45,314.05,314.65,315.25,315.85,316.45,317.05,317.65,318.25,318.85,319.45,320.05,320.65,321.25,321.85,322.45], "format": ".2f", "labelAlign": "left", "labelBaseline": "middle", "labelPadding": 2, "title": null}},
"y2": {"field": "y2"}
}
},
{
"data": {"name": "dotted"},
"mark": {"type": "rule", "color": "#ff0000", "strokeWidth": 1, "strokeDash": [1, 2]},
"encoding": {
"x": {"field": "x1", "type": "quantitative", "scale": {"domain": [-0.375, 384.875], "nice": false, "zero": false},
"axis": {"orient": "bottom", "values": [0,16,32,48,64,80,96,112,128,144,160,176,192,208,224,240,256,272,288,304], "labelExpr": "['19 Aug 2015','7 Sep 2015','25 Sep 2015','14 Oct 2015','2 Nov 2015','20 Nov 2015','9 Dec 2015','29 Dec 2015','18 Jan 2016','5 Feb 2016','24 Feb 2016','14 Mar 2016','1 Apr 2016','20 Apr 2016','9 May 2016','27 May 2016','15 Jun 2016','4 Jul 2016','22 Jul 2016','10 Aug 2016'][round(datum.value/16)]", "labelAlign": "left", "labelBaseline": "middle", "labelPadding": 6, "title": null}},
"x2": {"field": "x2"},
"y": {"field": "y1", "type": "quantitative", "scale": {"domain": [306.214, 322.625], "nice": false, "zero": false},
"axis": {"orient": "right", "values": [306.25,306.85,307.45,308.05,308.65,309.25,309.85,310.45,311.05,311.65,312.25,312.85,313.45,314.05,314.65,315.25,315.85,316.45,317.05,317.65,318.25,318.85,319.45,320.05,320.65,321.25,321.85,322.45], "format": ".2f", "labelAlign": "left", "labelBaseline": "middle", "labelPadding": 2, "title": null}},
"y2": {"field": "y2"}
}
},
{
"data": {"name": "conn"},
"mark": {"type": "rule", "strokeWidth": 1},
"encoding": {
"x": {"field": "x1", "type": "quantitative", "scale": {"domain": [-0.375, 384.875], "nice": false, "zero": false},
"axis": {"orient": "bottom", "values": [0,16,32,48,64,80,96,112,128,144,160,176,192,208,224,240,256,272,288,304], "labelExpr": "['19 Aug 2015','7 Sep 2015','25 Sep 2015','14 Oct 2015','2 Nov 2015','20 Nov 2015','9 Dec 2015','29 Dec 2015','18 Jan 2016','5 Feb 2016','24 Feb 2016','14 Mar 2016','1 Apr 2016','20 Apr 2016','9 May 2016','27 May 2016','15 Jun 2016','4 Jul 2016','22 Jul 2016','10 Aug 2016'][round(datum.value/16)]", "labelAlign": "left", "labelBaseline": "middle", "labelPadding": 6, "title": null}},
"x2": {"field": "x2"},
"y": {"field": "y1", "type": "quantitative", "scale": {"domain": [306.214, 322.625], "nice": false, "zero": false},
"axis": {"orient": "right", "values": [306.25,306.85,307.45,308.05,308.65,309.25,309.85,310.45,311.05,311.65,312.25,312.85,313.45,314.05,314.65,315.25,315.85,316.45,317.05,317.65,318.25,318.85,319.45,320.05,320.65,321.25,321.85,322.45], "format": ".2f", "labelAlign": "left", "labelBaseline": "middle", "labelPadding": 2, "title": null}},
"y2": {"field": "y2"},
"color": {"condition": {"test": "datum.k == 'blue'", "value": "#0000ff"}, "value": "#ff0000"}
}
},
{
"data": {"name": "fib"},
"mark": {"type": "text", "align": "right", "baseline": "alphabetic", "dy": -2, "font": "DejaVu Sans", "fontSize": 8.2, "color": "#000000"},
"encoding": {
"x": {"datum": 384.4, "type": "quantitative", "scale": {"domain": [-0.375, 384.875], "nice": false, "zero": false},
"axis": {"orient": "bottom", "values": [0,16,32,48,64,80,96,112,128,144,160,176,192,208,224,240,256,272,288,304], "labelExpr": "['19 Aug 2015','7 Sep 2015','25 Sep 2015','14 Oct 2015','2 Nov 2015','20 Nov 2015','9 Dec 2015','29 Dec 2015','18 Jan 2016','5 Feb 2016','24 Feb 2016','14 Mar 2016','1 Apr 2016','20 Apr 2016','9 May 2016','27 May 2016','15 Jun 2016','4 Jul 2016','22 Jul 2016','10 Aug 2016'][round(datum.value/16)]", "labelAlign": "left", "labelBaseline": "middle", "labelPadding": 6, "title": null}},
"y": {"field": "p", "type": "quantitative", "scale": {"domain": [306.214, 322.625], "nice": false, "zero": false},
"axis": {"orient": "right", "values": [306.25,306.85,307.45,308.05,308.65,309.25,309.85,310.45,311.05,311.65,312.25,312.85,313.45,314.05,314.65,315.25,315.85,316.45,317.05,317.65,318.25,318.85,319.45,320.05,320.65,321.25,321.85,322.45], "format": ".2f", "labelAlign": "left", "labelBaseline": "middle", "labelPadding": 2, "title": null}},
"text": {"field": "lv"}
}
},
{
"data": {"name": "boxes"},
"mark": {"type": "rect", "fill": "#ffffff", "strokeWidth": 1},
"encoding": {
"x": {"field": "x1", "type": "quantitative", "scale": {"domain": [-0.375, 384.875], "nice": false, "zero": false},
"axis": {"orient": "bottom", "values": [0,16,32,48,64,80,96,112,128,144,160,176,192,208,224,240,256,272,288,304], "labelExpr": "['19 Aug 2015','7 Sep 2015','25 Sep 2015','14 Oct 2015','2 Nov 2015','20 Nov 2015','9 Dec 2015','29 Dec 2015','18 Jan 2016','5 Feb 2016','24 Feb 2016','14 Mar 2016','1 Apr 2016','20 Apr 2016','9 May 2016','27 May 2016','15 Jun 2016','4 Jul 2016','22 Jul 2016','10 Aug 2016'][round(datum.value/16)]", "labelAlign": "left", "labelBaseline": "middle", "labelPadding": 6, "title": null}},
"x2": {"field": "x2"},
"y": {"field": "y1", "type": "quantitative", "scale": {"domain": [306.214, 322.625], "nice": false, "zero": false},
"axis": {"orient": "right", "values": [306.25,306.85,307.45,308.05,308.65,309.25,309.85,310.45,311.05,311.65,312.25,312.85,313.45,314.05,314.65,315.25,315.85,316.45,317.05,317.65,318.25,318.85,319.45,320.05,320.65,321.25,321.85,322.45], "format": ".2f", "labelAlign": "left", "labelBaseline": "middle", "labelPadding": 2, "title": null}},
"y2": {"field": "y2"},
"stroke": {"condition": {"test": "datum.k == 'blue'", "value": "#0000ff"}, "value": "#ff0000"}
}
},
{
"data": {"name": "boxes"},
"mark": {"type": "text", "align": "center", "baseline": "middle", "dy": 1, "font": "Liberation Sans", "fontSize": 27},
"encoding": {
"x": {"field": "xm", "type": "quantitative", "scale": {"domain": [-0.375, 384.875], "nice": false, "zero": false},
"axis": {"orient": "bottom", "values": [0,16,32,48,64,80,96,112,128,144,160,176,192,208,224,240,256,272,288,304], "labelExpr": "['19 Aug 2015','7 Sep 2015','25 Sep 2015','14 Oct 2015','2 Nov 2015','20 Nov 2015','9 Dec 2015','29 Dec 2015','18 Jan 2016','5 Feb 2016','24 Feb 2016','14 Mar 2016','1 Apr 2016','20 Apr 2016','9 May 2016','27 May 2016','15 Jun 2016','4 Jul 2016','22 Jul 2016','10 Aug 2016'][round(datum.value/16)]", "labelAlign": "left", "labelBaseline": "middle", "labelPadding": 6, "title": null}},
"y": {"field": "p", "type": "quantitative", "scale": {"domain": [306.214, 322.625], "nice": false, "zero": false},
"axis": {"orient": "right", "values": [306.25,306.85,307.45,308.05,308.65,309.25,309.85,310.45,311.05,311.65,312.25,312.85,313.45,314.05,314.65,315.25,315.85,316.45,317.05,317.65,318.25,318.85,319.45,320.05,320.65,321.25,321.85,322.45], "format": ".2f", "labelAlign": "left", "labelBaseline": "middle", "labelPadding": 2, "title": null}},
"text": {"field": "t"},
"color": {"condition": {"test": "datum.k == 'blue'", "value": "#0000ff"}, "value": "#ff0000"}
}
},
{
"data": {"name": "tag"},
"mark": {"type": "rect", "fill": "#000000"},
"encoding": {
"x": {"field": "x1", "type": "quantitative", "scale": {"domain": [-0.375, 384.875], "nice": false, "zero": false},
"axis": {"orient": "bottom", "values": [0,16,32,48,64,80,96,112,128,144,160,176,192,208,224,240,256,272,288,304], "labelExpr": "['19 Aug 2015','7 Sep 2015','25 Sep 2015','14 Oct 2015','2 Nov 2015','20 Nov 2015','9 Dec 2015','29 Dec 2015','18 Jan 2016','5 Feb 2016','24 Feb 2016','14 Mar 2016','1 Apr 2016','20 Apr 2016','9 May 2016','27 May 2016','15 Jun 2016','4 Jul 2016','22 Jul 2016','10 Aug 2016'][round(datum.value/16)]", "labelAlign": "left", "labelBaseline": "middle", "labelPadding": 6, "title": null}},
"x2": {"field": "x2"},
"y": {"field": "y1", "type": "quantitative", "scale": {"domain": [306.214, 322.625], "nice": false, "zero": false},
"axis": {"orient": "right", "values": [306.25,306.85,307.45,308.05,308.65,309.25,309.85,310.45,311.05,311.65,312.25,312.85,313.45,314.05,314.65,315.25,315.85,316.45,317.05,317.65,318.25,318.85,319.45,320.05,320.65,321.25,321.85,322.45], "format": ".2f", "labelAlign": "left", "labelBaseline": "middle", "labelPadding": 2, "title": null}},
"y2": {"field": "y2"}
}
},
{
"data": {"name": "tag"},
"mark": {"type": "text", "align": "left", "baseline": "middle", "font": "DejaVu Sans", "fontSize": 8.2, "fontWeight": "bold", "color": "#ffffff"},
"encoding": {
"x": {"field": "xt", "type": "quantitative", "scale": {"domain": [-0.375, 384.875], "nice": false, "zero": false},
"axis": {"orient": "bottom", "values": [0,16,32,48,64,80,96,112,128,144,160,176,192,208,224,240,256,272,288,304], "labelExpr": "['19 Aug 2015','7 Sep 2015','25 Sep 2015','14 Oct 2015','2 Nov 2015','20 Nov 2015','9 Dec 2015','29 Dec 2015','18 Jan 2016','5 Feb 2016','24 Feb 2016','14 Mar 2016','1 Apr 2016','20 Apr 2016','9 May 2016','27 May 2016','15 Jun 2016','4 Jul 2016','22 Jul 2016','10 Aug 2016'][round(datum.value/16)]", "labelAlign": "left", "labelBaseline": "middle", "labelPadding": 6, "title": null}},
"y": {"field": "p", "type": "quantitative", "scale": {"domain": [306.214, 322.625], "nice": false, "zero": false},
"axis": {"orient": "right", "values": [306.25,306.85,307.45,308.05,308.65,309.25,309.85,310.45,311.05,311.65,312.25,312.85,313.45,314.05,314.65,315.25,315.85,316.45,317.05,317.65,318.25,318.85,319.45,320.05,320.65,321.25,321.85,322.45], "format": ".2f", "labelAlign": "left", "labelBaseline": "middle", "labelPadding": 2, "title": null}},
"text": {"field": "t"}
}
},
{
"data": {"name": "header"},
"mark": {"type": "text", "align": "left", "baseline": "middle", "font": "DejaVu Sans", "fontSize": 8.6, "color": "#000000"},
"encoding": {
"x": {"field": "x", "type": "quantitative", "scale": {"domain": [-0.375, 384.875], "nice": false, "zero": false},
"axis": {"orient": "bottom", "values": [0,16,32,48,64,80,96,112,128,144,160,176,192,208,224,240,256,272,288,304], "labelExpr": "['19 Aug 2015','7 Sep 2015','25 Sep 2015','14 Oct 2015','2 Nov 2015','20 Nov 2015','9 Dec 2015','29 Dec 2015','18 Jan 2016','5 Feb 2016','24 Feb 2016','14 Mar 2016','1 Apr 2016','20 Apr 2016','9 May 2016','27 May 2016','15 Jun 2016','4 Jul 2016','22 Jul 2016','10 Aug 2016'][round(datum.value/16)]", "labelAlign": "left", "labelBaseline": "middle", "labelPadding": 6, "title": null}},
"y": {"field": "p", "type": "quantitative", "scale": {"domain": [306.214, 322.625], "nice": false, "zero": false},
"axis": {"orient": "right", "values": [306.25,306.85,307.45,308.05,308.65,309.25,309.85,310.45,311.05,311.65,312.25,312.85,313.45,314.05,314.65,315.25,315.85,316.45,317.05,317.65,318.25,318.85,319.45,320.05,320.65,321.25,321.85,322.45], "format": ".2f", "labelAlign": "left", "labelBaseline": "middle", "labelPadding": 2, "title": null}},
"text": {"field": "t"}
}
},
{
"data": {"name": "timer"},
"mark": {"type": "text", "align": "left", "baseline": "middle", "font": "Liberation Sans", "fontSize": 15, "color": "#40d9ff"},
"encoding": {
"x": {"field": "x", "type": "quantitative", "scale": {"domain": [-0.375, 384.875], "nice": false, "zero": false},
"axis": {"orient": "bottom", "values": [0,16,32,48,64,80,96,112,128,144,160,176,192,208,224,240,256,272,288,304], "labelExpr": "['19 Aug 2015','7 Sep 2015','25 Sep 2015','14 Oct 2015','2 Nov 2015','20 Nov 2015','9 Dec 2015','29 Dec 2015','18 Jan 2016','5 Feb 2016','24 Feb 2016','14 Mar 2016','1 Apr 2016','20 Apr 2016','9 May 2016','27 May 2016','15 Jun 2016','4 Jul 2016','22 Jul 2016','10 Aug 2016'][round(datum.value/16)]", "labelAlign": "left", "labelBaseline": "middle", "labelPadding": 6, "title": null}},
"y": {"field": "p", "type": "quantitative", "scale": {"domain": [306.214, 322.625], "nice": false, "zero": false},
"axis": {"orient": "right", "values": [306.25,306.85,307.45,308.05,308.65,309.25,309.85,310.45,311.05,311.65,312.25,312.85,313.45,314.05,314.65,315.25,315.85,316.45,317.05,317.65,318.25,318.85,319.45,320.05,320.65,321.25,321.85,322.45], "format": ".2f", "labelAlign": "left", "labelBaseline": "middle", "labelPadding": 2, "title": null}},
"text": {"field": "t"}
}
}
]
}
